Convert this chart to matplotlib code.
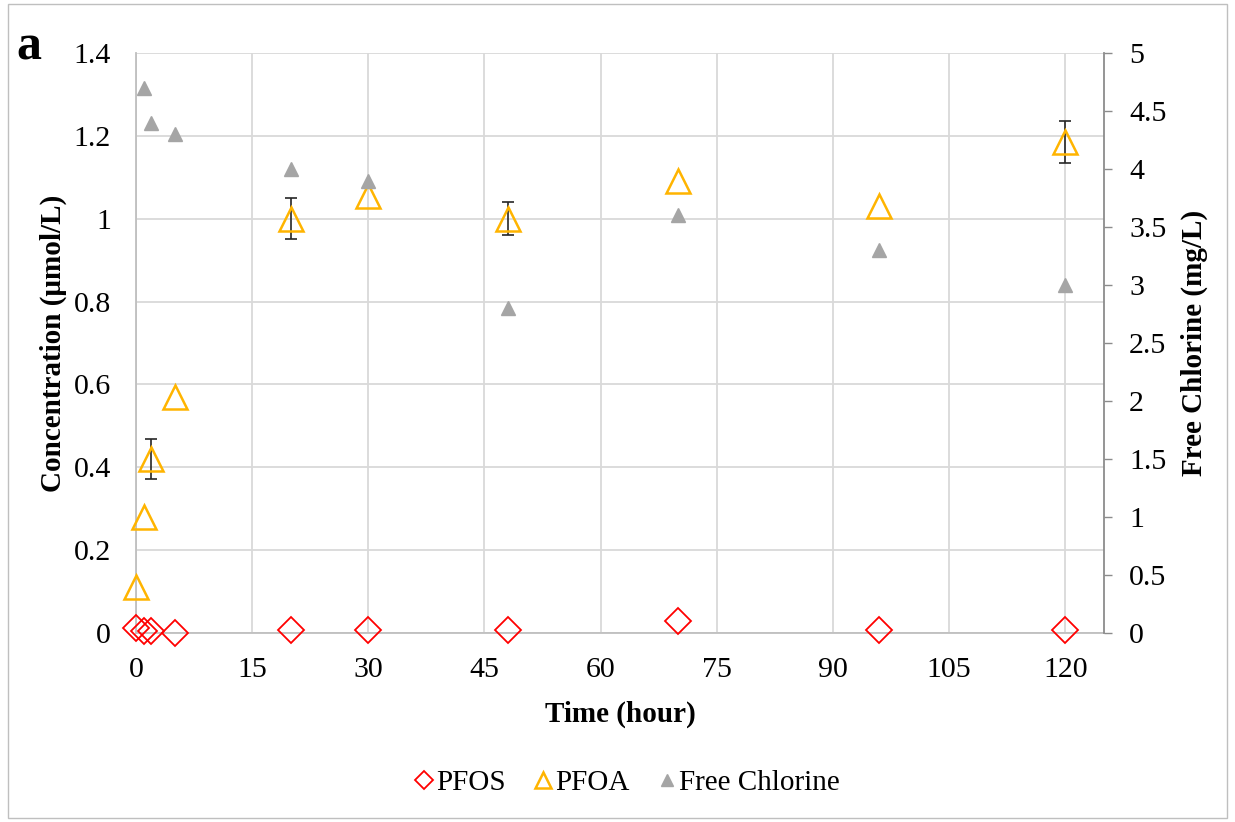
import matplotlib
matplotlib.use("Agg")
import matplotlib.pyplot as plt
from matplotlib.patches import Rectangle

plt.rcParams['font.family'] = ['Liberation Serif', 'DejaVu Serif']

time_h = [0, 1, 2, 5, 20, 30, 48, 70, 96, 120]
pfos = [0.012, 0.006, 0.004, 0.001, 0.008, 0.008, 0.008, 0.029, 0.008, 0.008]
pfoa = [0.11, 0.28, 0.42, 0.57, 1.00, 1.055, 1.00, 1.09, 1.03, 1.185]
pfoa_err = [0, 0, 0.048, 0, 0.05, 0, 0.04, 0, 0, 0.05]
cl_time = [1, 2, 5, 20, 30, 48, 70, 96, 120]
free_cl = [4.70, 4.40, 4.30, 4.00, 3.90, 2.80, 3.60, 3.30, 3.00]

x_ticks = [0, 15, 30, 45, 60, 75, 90, 105, 120]
left_ticks = [0, 0.2, 0.4, 0.6, 0.8, 1.0, 1.2, 1.4]
left_labels = ['0', '0.2', '0.4', '0.6', '0.8', '1', '1.2', '1.4']
right_ticks = [0, 0.5, 1, 1.5, 2, 2.5, 3, 3.5, 4, 4.5, 5]
right_labels = ['0', '0.5', '1', '1.5', '2', '2.5', '3', '3.5', '4', '4.5', '5']

W, H = 1235, 822
fig = plt.figure(figsize=(W / 100, H / 100), dpi=100)
fig.patches.append(Rectangle((8 / W, 4 / H), 1 - 16 / W, 1 - 8 / H, transform=fig.transFigure,
                             fill=False, edgecolor='#bfbfbf', linewidth=1))

L, R, T, B = 136, 1104, 53, 633
ax = fig.add_axes([L / W, 1 - B / H, (R - L) / W, (B - T) / H])
ax2 = ax.twinx()

grid_c = '#d9d9d9'
ax.set_xlim(0, 125)
ax.set_ylim(0, 1.4)
ax2.set_ylim(0, 5)
ax.set_xticks(x_ticks)
ax.set_yticks(left_ticks)
ax.set_yticklabels(left_labels)
ax2.set_yticks(right_ticks)
ax2.set_yticklabels(right_labels)
ax.grid(True, color=grid_c, linewidth=1.3)
ax.set_axisbelow(True)

for s in ['top', 'right']:
    ax.spines[s].set_visible(False)
for s in ['top', 'left', 'bottom']:
    ax2.spines[s].set_visible(False)
ax.spines['left'].set_color('#bfbfbf')
ax.spines['bottom'].set_color('#bfbfbf')
ax.spines['left'].set_linewidth(1.3)
ax.spines['bottom'].set_linewidth(1.3)
ax2.spines['right'].set_color('#8c8c8c')
ax2.spines['right'].set_linewidth(1.3)

fs = 21.5
ax.tick_params(axis='y', length=0, labelsize=fs, pad=18)
ax.tick_params(axis='x', length=0, labelsize=fs, pad=17)
ax2.tick_params(axis='y', length=6, color='#8c8c8c', width=1, labelsize=fs, pad=12)

ax.set_xlabel('Time (hour)', fontsize=21, fontweight='bold', labelpad=13)
ax.set_ylabel('Concentration (μmol/L)', fontsize=21, fontweight='bold', labelpad=5)
ax2.set_ylabel('Free Chlorine (mg/L)', fontsize=21, fontweight='bold', labelpad=10)

ax.errorbar([t for t, e in zip(time_h, pfoa_err) if e > 0],
            [v for v, e in zip(pfoa, pfoa_err) if e > 0],
            yerr=[e for e in pfoa_err if e > 0], fmt='none', ecolor='#262626',
            elinewidth=1.2, capsize=4.5, capthick=1.2, zorder=3, clip_on=False)
h1, = ax.plot(time_h, pfos, linestyle='none', marker='D', markersize=13.5,
              markerfacecolor='none', markeredgecolor='#ff0000', markeredgewidth=1.3,
              clip_on=False, zorder=4, label='PFOS')
h2, = ax.plot(time_h, pfoa, linestyle='none', marker='^', markersize=17,
              markerfacecolor='none', markeredgecolor='#ffb400', markeredgewidth=1.8,
              clip_on=False, zorder=4, label='PFOA')
h3, = ax2.plot(cl_time, free_cl, linestyle='none', marker='^', markersize=10,
               color='#a5a5a5', clip_on=False, zorder=4, label='Free Chlorine')

h1l, = ax.plot([], [], linestyle='none', marker='D', markersize=9, markerfacecolor='none',
               markeredgecolor='#ff0000', markeredgewidth=1.3)
h2l, = ax.plot([], [], linestyle='none', marker='^', markersize=12, markerfacecolor='none',
               markeredgecolor='#ffb400', markeredgewidth=1.8)
h3l, = ax.plot([], [], linestyle='none', marker='^', markersize=9, color='#a5a5a5')
fig.legend([h1l, h2l, h3l], ['PFOS', 'PFOA', 'Free Chlorine'], loc='center',
           bbox_to_anchor=(627 / W, 1 - 783 / H), ncol=3, frameon=False, fontsize=21,
           handletextpad=0.05, columnspacing=0.95, handlelength=0.7)

fig.text(16 / W, 1 - 47 / H, 'a', fontsize=36, fontweight='bold', va='center', ha='left')

fig.savefig('out.png', dpi=100)
